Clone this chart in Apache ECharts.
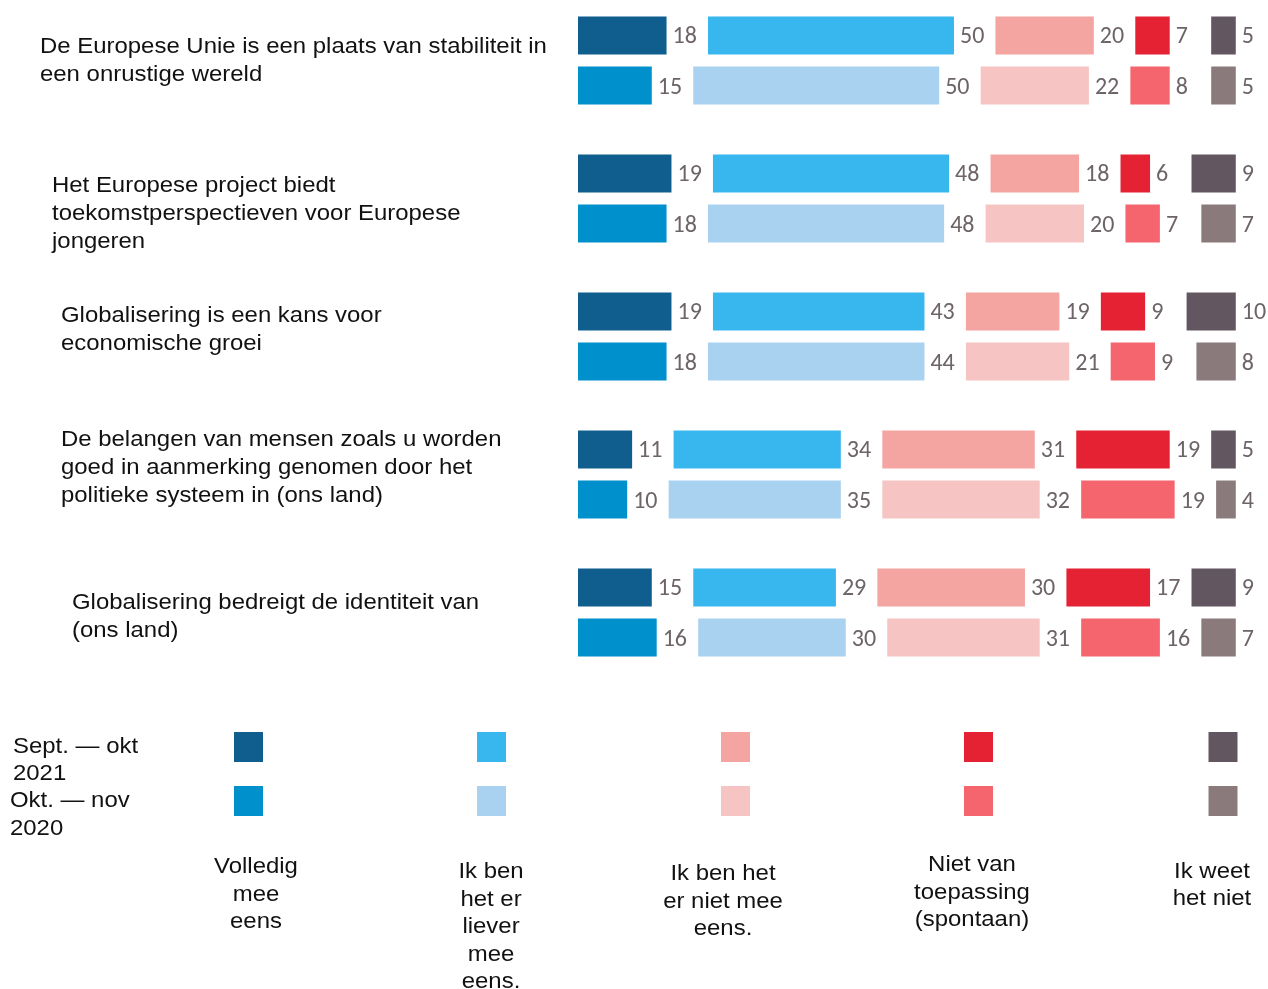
<!DOCTYPE html>
<html>
<head>
<meta charset="utf-8">
<script src="https://cdn.jsdelivr.net/npm/echarts@6/dist/echarts.min.js"></script>
<style>
  html, body { margin: 0; padding: 0; background: #ffffff; }
  #chart { width: 1268px; height: 989px; }
</style>
</head>
<body>
<div id="chart"></div>
<script>
// ---- Data ----
const statements = [
  "De Europese Unie is een plaats van stabiliteit in\neen onrustige wereld",
  "Het Europese project biedt\ntoekomstperspectieven voor Europese\njongeren",
  "Globalisering is een kans voor\neconomische groei",
  "De belangen van mensen zoals u worden\ngoed in aanmerking genomen door het\npolitieke systeem in (ons land)",
  "Globalisering bedreigt de identiteit van\n(ons land)"
];
const responses = [
  "Volledig\nmee\neens",
  "Ik ben\nhet er\nliever\nmee\neens.",
  "Ik ben het\ner niet mee\neens.",
  "Niet van\ntoepassing\n(spontaan)",
  "Ik weet\nhet niet"
];
const waves = ["Sept. \u2014 okt\n2021", "Okt. \u2014 nov\n2020"];

const volledigMeeEens_2021 = [18, 19, 19, 11, 15];
const lieverMeeEens_2021   = [50, 48, 43, 34, 29];
const nietMeeEens_2021     = [20, 18, 19, 31, 30];
const nietVanToepassing_2021 = [7, 6, 9, 19, 17];
const weetNiet_2021        = [5, 9, 10, 5, 9];

const volledigMeeEens_2020 = [15, 18, 18, 10, 16];
const lieverMeeEens_2020   = [50, 48, 44, 35, 30];
const nietMeeEens_2020     = [22, 20, 21, 32, 31];
const nietVanToepassing_2020 = [8, 7, 9, 19, 16];
const weetNiet_2020        = [5, 7, 8, 4, 7];

// ---- Styles / layout ----
const colors2021 = ["#0f5e8e", "#38b7ef", "#f4a5a2", "#e42233", "#625660"];
const colors2020 = ["#0090cc", "#a9d1f0", "#f6c5c3", "#f5656e", "#8b7a7c"];
const GAP = 8.43; // visual spacing between segments (axis units)
const textFont = "'Liberation Sans', Arial, sans-serif";
const numFont = "Carlito, Calibri, 'Open Sans', sans-serif";
const TEXT_SIZE = 22;
const TEXT_SCALE_X = 1.088;

const yearData = [
  { stack: "s2021", name: waves[0], colors: colors2021,
    values: [volledigMeeEens_2021, lieverMeeEens_2021, nietMeeEens_2021, nietVanToepassing_2021, weetNiet_2021] },
  { stack: "s2020", name: waves[1], colors: colors2020,
    values: [volledigMeeEens_2020, lieverMeeEens_2020, nietMeeEens_2020, nietVanToepassing_2020, weetNiet_2020] }
];

const series = [];
yearData.forEach(function (yd) {
  yd.values.forEach(function (vals, i) {
    series.push({
      type: "bar",
      name: yd.name + " " + responses[i],
      stack: yd.stack,
      data: vals,
      barWidth: 38,
      barGap: "31.6%",
      itemStyle: { color: yd.colors[i] },
      label: {
        show: true,
        position: "right",
        distance: 6,
        offset: [0, 2],
        color: "#6d6468",
        fontFamily: numFont,
        fontSize: 24
      },
      emphasis: { disabled: true }
    });
    if (i < yd.values.length - 1) {
      series.push({
        type: "bar",
        stack: yd.stack,
        data: vals.map(function () { return GAP; }),
        barWidth: 38,
        barGap: "31.6%",
        itemStyle: { color: "rgba(0,0,0,0)" },
        silent: true,
        label: { show: false },
        emphasis: { disabled: true }
      });
    }
  });
});

// ---- Graphic text & legend ----
function textEl(txt, x, y, align, lh) {
  return {
    type: "text",
    x: x, y: y,
    scaleX: TEXT_SCALE_X,
    style: {
      text: txt, fill: "#111111", fontFamily: textFont, fontSize: TEXT_SIZE,
      lineHeight: lh, align: align, verticalAlign: "middle"
    }
  };
}
const stmtPos = [[40, 61], [52, 214], [61, 329.5], [61, 467.5], [72, 617]];
const graphic = [];
statements.forEach(function (s, i) {
  graphic.push(textEl(s, stmtPos[i][0], stmtPos[i][1], "left", 28));
});
const wavePos = [[13, 760.5], [10, 815]];
waves.forEach(function (w, i) {
  graphic.push(textEl(w, wavePos[i][0], wavePos[i][1], "left", 27.5));
});
const legendX = [248.5, 491.5, 735.5, 978.5, 1223];
const legendRowY = [747, 801];
const respPos = [[256, 894.5], [491, 927], [723, 901.5], [972, 892.5], [1212, 885.5]];
responses.forEach(function (r, i) {
  [colors2021, colors2020].forEach(function (cols, k) {
    graphic.push({
      type: "rect",
      shape: { x: legendX[i] - 14.5, y: legendRowY[k] - 15, width: 29, height: 30 },
      style: { fill: cols[i] }
    });
  });
  graphic.push(textEl(r, respPos[i][0], respPos[i][1], "center", 27.5));
});

const chart = echarts.init(document.getElementById("chart"), null, { renderer: "canvas" });
chart.setOption({
  animation: false,
  backgroundColor: "#ffffff",
  grid: { left: 578, top: -8.5, width: 669, height: 690, containLabel: false, outerBoundsMode: "none" },
  xAxis: { type: "value", min: 0, max: 136, show: false },
  yAxis: {
    type: "category", data: statements, inverse: true, show: false
  },
  series: series,
  graphic: graphic
});
</script>
</body>
</html>
